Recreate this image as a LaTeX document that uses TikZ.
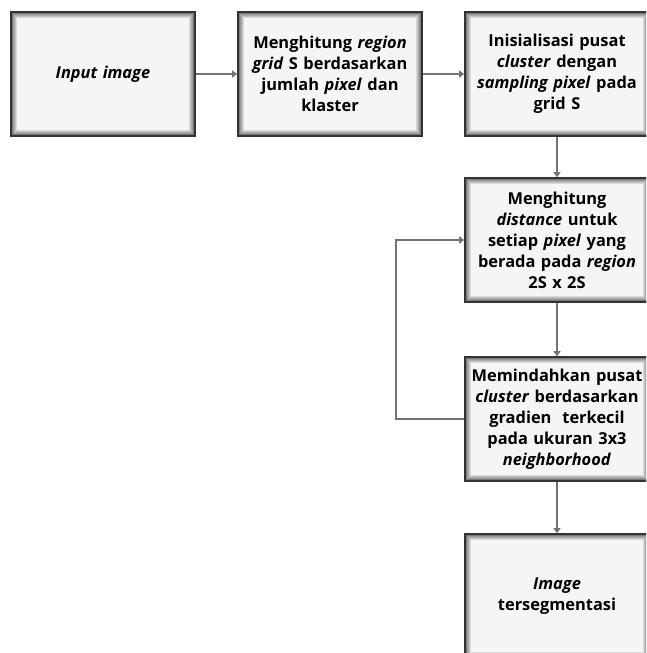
\documentclass[tikz,border=0pt]{standalone}
\usepackage{fontspec}
\setmainfont{Open Sans}
\usetikzlibrary{arrows.meta}

\begin{document}
\begin{tikzpicture}[x=1pt, y=-1pt,
  box/.style={draw=black!80, line width=1.6pt, fill=gray!8, minimum width=184pt, minimum height=124pt, inner sep=1pt, text width=180pt, align=center, font=\bfseries\fontsize{16.4}{21}\selectfont,
    path picture={\foreach \i in {1,...,7} {\draw[black, opacity=0.11, line width=1.6*\i pt] (path picture bounding box.south west) rectangle (path picture bounding box.north east);}}},
  arrow/.style={-{Triangle[width=7pt,length=5pt]}, draw=black!55, line width=1.5pt}]
\clip (0,0) rectangle (646,653);
\node[box] (input) at (103,74) {\textit{Input image}};
\node[box] (grid) at (330,74) {Menghitung \textit{region}\\\textit{grid} S berdasarkan\\jumlah \textit{pixel} dan\\klaster};
\node[box] (init) at (557,74) {Inisialisasi pusat\\\textit{cluster} dengan\\\textit{sampling pixel} pada\\grid S};
\node[box] (dist) at (557,240) {Menghitung\\\textit{distance} untuk\\setiap \textit{pixel} yang\\berada pada \textit{region}\\2S x 2S};
\node[box] (move) at (557,419) {Memindahkan pusat\\\textit{cluster} berdasarkan\\gradien~ terkecil\\pada ukuran 3x3\\\textit{neighborhood}};
\node[box] (out) at (557,596) {\textit{Image}\\tersegmentasi};
\draw[arrow] (input)--(grid); \draw[arrow] (grid)--(init);
\draw[arrow] (init)--(dist); \draw[arrow] (dist)--(move); \draw[arrow] (move)--(out);
\draw[arrow] (move.west) -- ++(-68,0) |- (dist.west);
\end{tikzpicture}
\end{document}
